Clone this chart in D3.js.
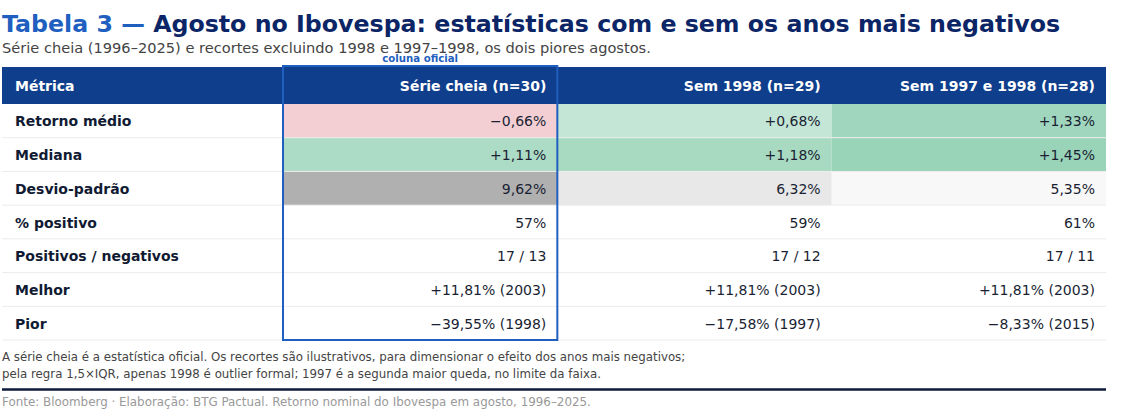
<!DOCTYPE html>
<html>
<head>
<meta charset="utf-8">
<script src="https://cdn.jsdelivr.net/npm/d3@7"></script>
<style>
  html, body { margin: 0; padding: 0; background: #fff; }
  svg { display: block; font-family: "DejaVu Sans", sans-serif; }
</style>
</head>
<body>
<svg id="chart" width="1122" height="418"></svg>
<script>
(function() {
  'use strict';

  // --- data ---
  const metrics = ['Retorno médio', 'Mediana', 'Desvio-padrão', '% positivo',
                   'Positivos / negativos', 'Melhor', 'Pior'];
  const columns = ['Série cheia (n=30)', 'Sem 1998 (n=29)', 'Sem 1997 e 1998 (n=28)'];
  const serieCheia = ['−0,66%', '+1,11%', '9,62%', '57%', '17 / 13', '+11,81% (2003)', '−39,55% (1998)'];
  const sem1998 = ['+0,68%', '+1,18%', '6,32%', '59%', '17 / 12', '+11,81% (2003)', '−17,58% (1997)'];
  const sem9798 = ['+1,33%', '+1,45%', '5,35%', '61%', '17 / 11', '+11,81% (2003)', '−8,33% (2015)'];
  // numeric values behind the shaded rows (mean, median, std)
  const retornoMedio = [-0.66, 0.68, 1.33];
  const mediana = [1.11, 1.18, 1.45];
  const desvio = [9.62, 6.32, 5.35];

  const svg = d3.select('#chart');

  // layout
  const left = 2, right = 1106;
  const headerTop = 67, headerBottom = 104, tableBottom = 340;
  const firstColW = 281;
  const fs = 14;

  const x = d3.scaleBand()
    .domain(columns)
    .range([left + firstColW, right])
    .paddingInner(0).paddingOuter(0);

  const y = d3.scaleBand()
    .domain(metrics)
    .range([headerBottom, tableBottom]);

  // colour scales
  const green = d3.scaleLinear().domain([0.6, 1.5]).range(['#c8e8d9', '#96d2b6']);
  const pink = '#f3cfd3';
  const grey = d3.scaleLinear().domain([5.35, 6.32, 9.62]).range(['#f8f8f8', '#e8e8e8', '#b0b0b0']);
  function fillFor(row, ci) {
    if (row === 0) return retornoMedio[ci] < 0 ? pink : green(retornoMedio[ci]);
    if (row === 1) return green(mediana[ci]);
    if (row === 2) return grey(desvio[ci]);
    return '#fff';
  }

  // title
  const title = svg.append('text')
    .attr('x', 2).attr('y', 32)
    .attr('font-size', 23.7).attr('font-weight', 'bold');
  title.append('tspan').attr('fill', '#1f5fbf').text('Tabela 3 — ');
  title.append('tspan').attr('fill', '#0b2566')
    .text('Agosto no Ibovespa: estatísticas com e sem os anos mais negativos');

  svg.append('text')
    .attr('x', 2).attr('y', 53)
    .attr('font-size', 14.6).attr('fill', '#444')
    .text('Série cheia (1996–2025) e recortes excluindo 1998 e 1997–1998, os dois piores agostos.');

  // header
  svg.append('rect')
    .attr('x', left).attr('y', headerTop)
    .attr('width', right - left).attr('height', headerBottom - headerTop)
    .attr('fill', '#0f3e8c');

  svg.append('text')
    .attr('x', 15).attr('y', (headerTop + headerBottom) / 2 + 5)
    .attr('font-size', fs).attr('font-weight', 'bold').attr('fill', '#fff')
    .text('Métrica');

  svg.selectAll('.colhead')
    .data(columns)
    .join('text')
    .attr('class', 'colhead')
    .attr('x', d => x(d) + x.bandwidth() - 11)
    .attr('y', (headerTop + headerBottom) / 2 + 5)
    .attr('text-anchor', 'end')
    .attr('font-size', fs).attr('font-weight', 'bold').attr('fill', '#fff')
    .text(d => d);

  // body
  const colValues = [serieCheia, sem1998, sem9798];
  const cells = [];
  metrics.forEach((m, ri) => {
    columns.forEach((c, ci) => {
      cells.push({ metric: m, col: c, ri, ci, value: colValues[ci][ri] });
    });
  });

  svg.selectAll('.cell')
    .data(cells.filter(d => d.ri < 3))
    .join('rect')
    .attr('class', 'cell')
    .attr('x', d => x(d.col))
    .attr('y', d => y(d.metric))
    .attr('width', x.bandwidth())
    .attr('height', y.bandwidth())
    .attr('fill', d => fillFor(d.ri, d.ci));

  // row separators
  svg.selectAll('.sep')
    .data(metrics)
    .join('line')
    .attr('class', 'sep')
    .attr('x1', left).attr('x2', right)
    .attr('y1', d => y(d) + y.bandwidth())
    .attr('y2', d => y(d) + y.bandwidth())
    .attr('stroke', '#ececec').attr('stroke-width', 1);

  svg.selectAll('.rowlabel')
    .data(metrics)
    .join('text')
    .attr('class', 'rowlabel')
    .attr('x', 15)
    .attr('y', d => y(d) + y.bandwidth() / 2 + 5.5)
    .attr('font-size', fs).attr('font-weight', 'bold').attr('fill', '#111a33')
    .text(d => d);

  svg.selectAll('.val')
    .data(cells)
    .join('text')
    .attr('class', 'val')
    .attr('x', d => x(d.col) + x.bandwidth() - 11)
    .attr('y', d => y(d.metric) + y.bandwidth() / 2 + 5.5)
    .attr('text-anchor', 'end')
    .attr('font-size', fs).attr('fill', '#1a1f33')
    .text(d => d.value);

  // official column highlight
  const off = columns[0];
  svg.append('rect')
    .attr('x', x(off)).attr('y', headerTop - 1)
    .attr('width', x.bandwidth()).attr('height', tableBottom - headerTop + 1)
    .attr('fill', 'none').attr('stroke', '#1f5fbf').attr('stroke-width', 2);

  svg.append('text')
    .attr('x', x(off) + x.bandwidth() / 2).attr('y', 62)
    .attr('text-anchor', 'middle')
    .attr('font-size', 10.2).attr('font-weight', 'bold').attr('fill', '#1f5fbf')
    .text('coluna oficial');

  // notes
  const notes = [
    'A série cheia é a estatística oficial. Os recortes são ilustrativos, para dimensionar o efeito dos anos mais negativos;',
    'pela regra 1,5×IQR, apenas 1998 é outlier formal; 1997 é a segunda maior queda, no limite da faixa.'
  ];
  svg.selectAll('.note')
    .data(notes)
    .join('text')
    .attr('class', 'note')
    .attr('x', 2)
    .attr('y', (d, i) => 361 + i * 16.5)
    .attr('font-size', 11.8).attr('fill', '#444')
    .text(d => d);

  svg.append('line')
    .attr('x1', left).attr('x2', right)
    .attr('y1', 389.5).attr('y2', 389.5)
    .attr('stroke', '#0d1a3a').attr('stroke-width', 2.5);

  svg.append('text')
    .attr('x', 2).attr('y', 405.5)
    .attr('font-size', 11.9).attr('fill', '#999')
    .text('Fonte: Bloomberg · Elaboração: BTG Pactual. Retorno nominal do Ibovespa em agosto, 1996–2025.');
})();
</script>
</body>
</html>
